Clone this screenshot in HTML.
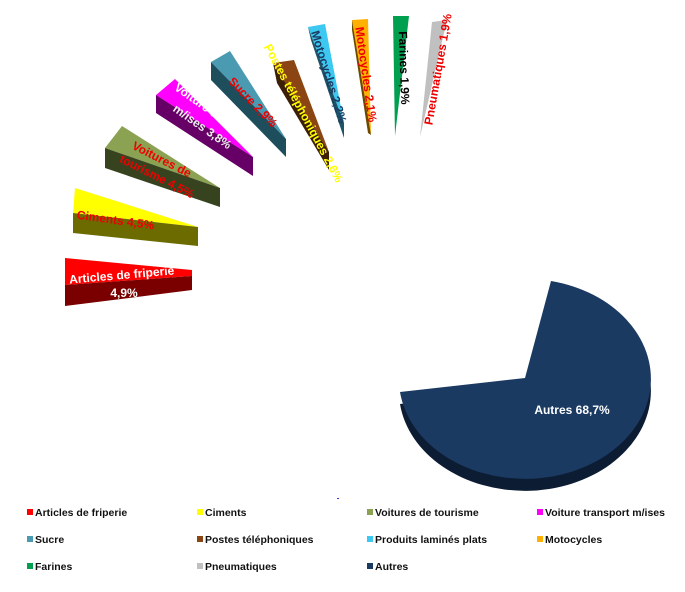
<!DOCTYPE html>
<html><head><meta charset="utf-8"><style>
body{margin:0;background:#fff;width:685px;height:592px;overflow:hidden;font-family:"Liberation Sans",sans-serif}
svg{position:absolute;left:0;top:0}
.l{font-weight:bold;font-size:12px}
.lg{font-size:10.5px;fill:#111;font-weight:bold}
</style></head><body>
<svg width="685" height="592" viewBox="0 0 685 592">
<path d="M525,390 L551,293 A126,100 0 1 1 400,404 Z" fill="#0c1c33"/>
<path d="M525,378 L551,281 A126,100 0 1 1 400,392 Z" fill="#1b3a62"/>
<text x="572" y="414" text-anchor="middle" class="l" fill="#fff">Autres 68,7%</text>
<polygon points="65,258 192,270 192,276 65,285" fill="#f00"/>
<polygon points="65,285 192,276 192,290 65,306" fill="#7a0000"/>
<polygon points="75,188 198,227 73,213" fill="#ff0"/>
<polygon points="73,213 198,227 198,246 73,233" fill="#6b6b00"/>
<polygon points="122,126 105,148 220,188" fill="#8ba252"/>
<polygon points="105,148 220,188 220,207 105,168" fill="#37431f"/>
<polygon points="175,79 156,95 253,157" fill="#f0f"/>
<polygon points="156,95 253,157 253,176 156,113" fill="#660066"/>
<polygon points="230,51 211,62 286,139" fill="#4a9ab2"/>
<polygon points="211,62 286,139 286,157 211,80" fill="#1e4d5c"/>
<polygon points="294,60 273,63 329,152" fill="#8b4513"/>
<polygon points="273,63 329,152 329,170 277,83" fill="#3d1e06"/>
<polygon points="325,24 308,27 344,123" fill="#3cc8f0"/>
<polygon points="308,27 344,123 344,138 311,40" fill="#1d5566"/>
<polygon points="352,20 368,19 371,135" fill="#ffb000"/>
<polygon points="352,20 371,135 368,133 352,30" fill="#6b4a00"/>
<polygon points="393,16 409,16 395,136" fill="#00a050"/>
<polygon points="432,22 447,20 420,137" fill="#c0c0c0"/>
<text class="l" fill="#fff" text-anchor="middle" transform="translate(122,279) rotate(-5)">Articles de friperie</text>
<text class="l" fill="#fff" text-anchor="middle" transform="translate(124,297)">4,9%</text>
<text class="l" fill="#e00" text-anchor="middle" transform="translate(115,224) rotate(8)">Ciments 4,5%</text>
<text class="l" fill="#e00" text-anchor="middle" transform="translate(160,163) rotate(27)">Voitures de</text>
<text class="l" fill="#e00" text-anchor="middle" transform="translate(155,180) rotate(27)">tourisme 4,5%</text>
<text class="l" fill="#fff" text-anchor="middle" transform="translate(213,117) rotate(35)">Voiture transport</text>
<text class="l" fill="#eee" text-anchor="middle" transform="translate(200,130) rotate(35)">m/ises 3,8%</text>
<text class="l" fill="#e00" text-anchor="middle" transform="translate(250,105) rotate(46)">Sucre 2,9%</text>
<text class="l" fill="#ff0" text-anchor="middle" transform="translate(300,115) rotate(62)">Postes téléphoniques 2,6%</text>
<text class="l" fill="#1b3a62" text-anchor="middle" transform="translate(325,78) rotate(73)">Motocycles 2,2%</text>
<text class="l" fill="#e00" text-anchor="middle" transform="translate(362,75) rotate(82)">Motocycles 2,1%</text>
<text class="l" fill="#000" text-anchor="middle" transform="translate(400,68) rotate(88)">Farines 1,9%</text>
<text class="l" fill="#e00" text-anchor="middle" transform="translate(442,70) rotate(-80)">Pneumatiques 1,9%</text>
<g class="lg">
<rect x="27" y="509" width="6" height="6" fill="#f00"/><text x="35" y="516">Articles de friperie</text>
<rect x="197" y="509" width="6" height="6" fill="#ff0"/><text x="205" y="516">Ciments</text>
<rect x="367" y="509" width="6" height="6" fill="#8ba252"/><text x="375" y="516">Voitures de tourisme</text>
<rect x="537" y="509" width="6" height="6" fill="#f0f"/><text x="545" y="516" textLength="120" lengthAdjust="spacingAndGlyphs">Voiture transport m/ises</text>
<rect x="27" y="536" width="6" height="6" fill="#4a9ab2"/><text x="35" y="543">Sucre</text>
<rect x="197" y="536" width="6" height="6" fill="#8b4513"/><text x="205" y="543">Postes téléphoniques</text>
<rect x="367" y="536" width="6" height="6" fill="#3cc8f0"/><text x="375" y="543">Produits laminés plats</text>
<rect x="537" y="536" width="6" height="6" fill="#ffb000"/><text x="545" y="543">Motocycles</text>
<rect x="27" y="563" width="6" height="6" fill="#00a050"/><text x="35" y="570">Farines</text>
<rect x="197" y="563" width="6" height="6" fill="#c0c0c0"/><text x="205" y="570">Pneumatiques</text>
<rect x="367" y="563" width="6" height="6" fill="#1b3a62"/><text x="375" y="570">Autres</text>
</g>
<rect x="337" y="498" width="2" height="1" fill="#33c"/>
</svg>
</body></html>
